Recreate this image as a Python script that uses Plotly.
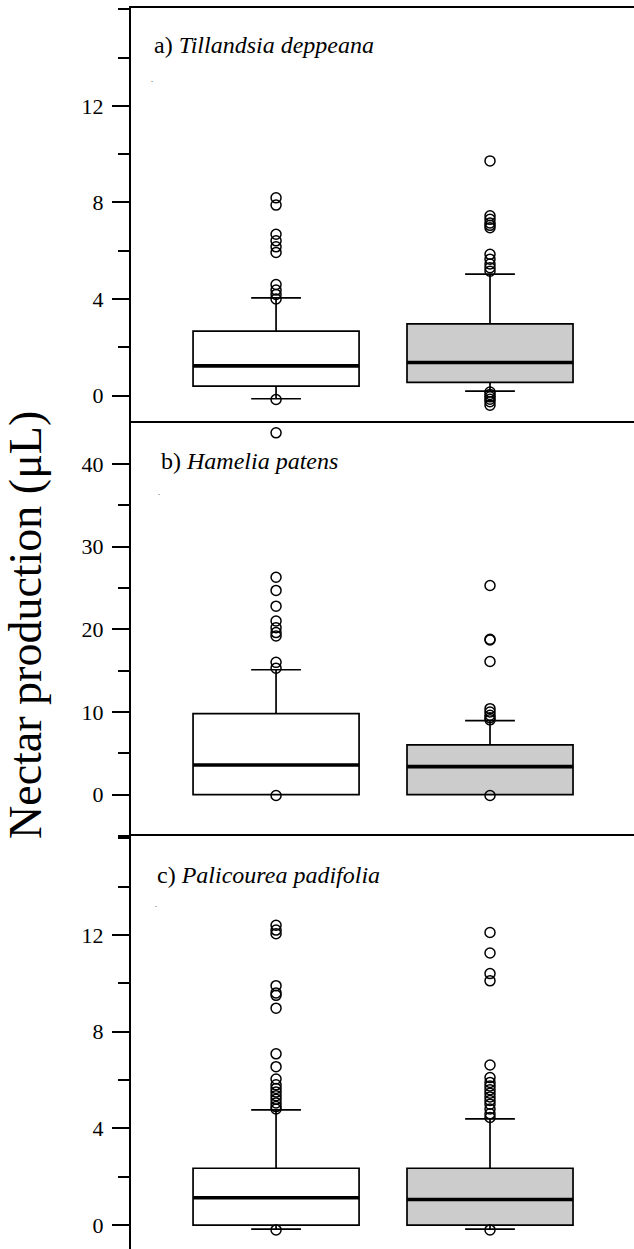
import plotly.graph_objects as go

# ---------------- data ----------------
panel_labels = ["a) <i>Tillandsia deppeana</i>",
                "b) <i>Hamelia patens</i>",
                "c) <i>Palicourea padifolia</i>"]
y_title = "Nectar production (μL)"

# group positions (0 = white box, 1 = grey box)
groups = [0, 1]

# Panel a: Tillandsia deppeana
a_q1 = [0.39, 0.55]
a_med = [1.23, 1.37]
a_q3 = [2.67, 2.97]
a_lo = [-0.13, 0.19]
a_hi = [4.05, 5.03]
a_out1 = [8.19, 7.89, 6.68, 6.41, 6.16, 5.93, 4.60, 4.37, 4.19, 4.00, -0.16, -1.54]
a_out2 = [9.72, 7.45, 7.30, 7.15, 7.05, 6.95, 5.85, 5.65, 5.45, 5.30, 5.15,
          0.15, 0.05, -0.05, -0.15, -0.25, -0.40]

# Panel b: Hamelia patens
b_q1 = [0.0, 0.0]
b_med = [3.59, 3.39]
b_q3 = [9.79, 6.01]
b_lo = [0.0, 0.0]
b_hi = [15.11, 8.95]
b_out1 = [26.3, 24.7, 22.8, 21.0, 20.2, 19.6, 19.2, 16.0, 15.3, -0.1]
b_out2 = [25.3, 18.8, 18.7, 16.1, 10.4, 10.0, 9.6, 9.3, 9.05, -0.1]

# Panel c: Palicourea padifolia
c_q1 = [0.0, 0.0]
c_med = [1.13, 1.06]
c_q3 = [2.35, 2.35]
c_lo = [-0.17, -0.17]
c_hi = [4.76, 4.39]
c_out1 = [12.4, 12.2, 12.05, 9.9, 9.6, 9.5, 8.97, 7.08, 6.55, 6.04, 5.8, 5.65,
          5.5, 5.35, 5.2, 5.05, 4.9, 4.8, -0.2]
c_out2 = [12.1, 11.25, 10.4, 10.1, 6.62, 6.1, 5.9, 5.75, 5.6, 5.45, 5.3, 5.15,
          5.0, 4.8, 4.6, 4.45, -0.2]

panels = [
    dict(q1=a_q1, med=a_med, q3=a_q3, lo=a_lo, hi=a_hi, out=[a_out1, a_out2],
         ticks=[0, 4, 8, 12], minor=2, rng=[-1.8, 16.05]),
    dict(q1=b_q1, med=b_med, q3=b_q3, lo=b_lo, hi=b_hi, out=[b_out1, b_out2],
         ticks=[0, 10, 20, 30, 40], minor=5, rng=[-5.0, 44.95]),
    dict(q1=c_q1, med=c_med, q3=c_q3, lo=c_lo, hi=c_hi, out=[c_out1, c_out2],
         ticks=[0, 4, 8, 12], minor=2, rng=[-0.99, 16.09]),
]

# ---------------- layout constants ----------------
W, H = 634, 1249
FONT = "Liberation Serif"
fills = ["white", "#cccccc"]
BOX_W = 0.776
CAP = 0.30
# panel pixel extents (top, bottom); panel a extends a little below the
# a/b border so that its lowest outlier (drawn past the border) stays visible
pix = [(8, 439.1), (423, 836), (836, 1249)]
x_left = 131 / W

fig = go.Figure()

for i, p in enumerate(panels):
    xa = "x" if i == 0 else f"x{i+1}"
    ya = "y" if i == 0 else f"y{i+1}"
    for g in groups:
        fig.add_trace(go.Box(
            x=[g], q1=[p["q1"][g]], median=[p["med"][g]], q3=[p["q3"][g]],
            lowerfence=[p["lo"][g]], upperfence=[p["hi"][g]],
            width=BOX_W, whiskerwidth=CAP, fillcolor=fills[g],
            line=dict(color="black", width=1.7), boxpoints=False,
            xaxis=xa, yaxis=ya, showlegend=False, hoverinfo="skip"))
    # thick median bars (degenerate boxes at the median)
    fig.add_trace(go.Box(
        x=groups, q1=p["med"], median=p["med"], q3=p["med"],
        lowerfence=p["med"], upperfence=p["med"],
        width=BOX_W, whiskerwidth=0, fillcolor="black",
        line=dict(color="black", width=3.6), boxpoints=False,
        xaxis=xa, yaxis=ya, showlegend=False, hoverinfo="skip"))
    for g in groups:
        vals = p["out"][g]
        fig.add_trace(go.Scatter(
            x=[g] * len(vals), y=vals, mode="markers",
            marker=dict(symbol="circle-open", size=10, color="black",
                        line=dict(width=1.5, color="black")),
            cliponaxis=False, xaxis=xa, yaxis=ya,
            showlegend=False, hoverinfo="skip"))

layout = dict(
    width=W, height=H,
    margin=dict(l=0, r=0, t=0, b=0),
    paper_bgcolor="white", plot_bgcolor="rgba(0,0,0,0)",
    font=dict(family=FONT, color="black", size=21),
    boxmode="overlay",
)

for i, p in enumerate(panels):
    top, bot = pix[i]
    dom = [1 - bot / H, 1 - top / H]
    xk = "xaxis" if i == 0 else f"xaxis{i+1}"
    yk = "yaxis" if i == 0 else f"yaxis{i+1}"
    ya = "y" if i == 0 else f"y{i+1}"
    xa = "x" if i == 0 else f"x{i+1}"
    layout[xk] = dict(domain=[x_left, 1], anchor=ya, side="top",
                      range=[-0.678, 1.673], showline=True, linecolor="black",
                      linewidth=2, ticks="", showticklabels=False,
                      showgrid=False, zeroline=False)
    layout[yk] = dict(domain=dom, anchor=xa, range=p["rng"],
                      tickvals=p["ticks"], ticks="outside", ticklen=17,
                      tickwidth=1.6, tickcolor="black",
                      minor=dict(dtick=p["minor"], tick0=0, ticks="outside",
                                 ticklen=11, tickwidth=1.6, tickcolor="black",
                                 showgrid=False),
                      showline=True, linecolor="black", linewidth=2,
                      showgrid=False, zeroline=False,
                      tickfont=dict(family=FONT, size=22, color="black"),
                      ticklabelstandoff=4)

fig.update_layout(**layout)

label_y = [45, 461, 875]
label_x = [152, 159, 155]
dot_pos = [(152, 86), (159, 499), (156, 911)]
for i, lab in enumerate(panel_labels):
    fig.add_annotation(text=lab, xref="paper", yref="paper",
                       x=label_x[i] / W, y=1 - label_y[i] / H,
                       xanchor="left", yanchor="middle", showarrow=False,
                       font=dict(family=FONT, size=24, color="black"))
    dx, dy = dot_pos[i]
    fig.add_annotation(text=".", xref="paper", yref="paper",
                       x=dx / W, y=1 - dy / H, xanchor="center",
                       yanchor="bottom", showarrow=False,
                       font=dict(family=FONT, size=8, color="black"))

fig.add_annotation(text=y_title, xref="paper", yref="paper",
                   x=25 / W, y=1 - 625 / H, xanchor="center", yanchor="middle",
                   textangle=-90, showarrow=False,
                   font=dict(family=FONT, size=46, color="black"))

fig.write_html("out.html",
               config={"displayModeBar": False},
               post_script="document.body.style.margin='0';"
                           "document.body.style.overflow='hidden';")
